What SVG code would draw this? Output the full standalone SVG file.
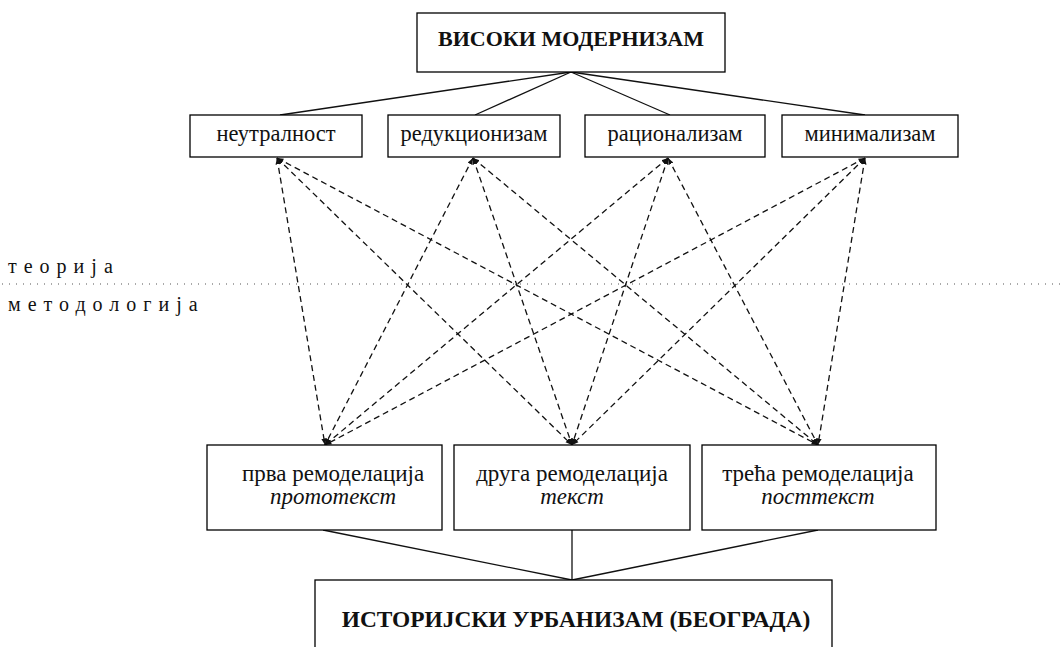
<svg xmlns="http://www.w3.org/2000/svg" width="1061" height="647" viewBox="0 0 1061 647">
<defs>
<style>
.box{fill:#fff;stroke:#000;stroke-width:1.3}
.t{fill:#111;text-anchor:middle}
.b{font-weight:bold}
.i{font-style:italic}
.solid{stroke:#111;stroke-width:1.3;fill:none}
.dash{stroke:#111;stroke-width:1.3;fill:none;stroke-dasharray:6,4}
.dot{stroke:#555;stroke-width:1.2;fill:none;stroke-dasharray:1,6}
.side{font-size:20px;letter-spacing:7px;fill:#111}
</style>
<marker id="ah" viewBox="0 0 10 10" refX="10" refY="5" markerWidth="5" markerHeight="5" orient="auto-start-reverse">
<path d="M0,1 L10,5 L0,9 z" fill="#111"/>
</marker>
</defs>
<rect width="1061" height="647" fill="#fff"/>
<g id="divider" font-family="Liberation Serif">
<line class="dot" x1="2" y1="284" x2="1061" y2="284"/>
<text class="side" x="8" y="273">теорија</text>
<text class="side" x="8" y="311">методологија</text>
</g>
<g id="connectors">
<line class="solid" x1="571" y1="72" x2="280" y2="115"/>
<line class="solid" x1="571" y1="72" x2="475" y2="115"/>
<line class="solid" x1="571" y1="72" x2="670" y2="115"/>
<line class="solid" x1="571" y1="72" x2="865" y2="115"/>
<g marker-start="url(#ah)" marker-end="url(#ah)">
<line class="dash" x1="277" y1="158" x2="325" y2="445"/>
<line class="dash" x1="277" y1="158" x2="572" y2="445"/>
<line class="dash" x1="277" y1="158" x2="818" y2="445"/>
<line class="dash" x1="473" y1="158" x2="325" y2="445"/>
<line class="dash" x1="473" y1="158" x2="572" y2="445"/>
<line class="dash" x1="473" y1="158" x2="818" y2="445"/>
<line class="dash" x1="668" y1="158" x2="325" y2="445"/>
<line class="dash" x1="668" y1="158" x2="572" y2="445"/>
<line class="dash" x1="668" y1="158" x2="818" y2="445"/>
<line class="dash" x1="865" y1="158" x2="325" y2="445"/>
<line class="dash" x1="865" y1="158" x2="572" y2="445"/>
<line class="dash" x1="865" y1="158" x2="818" y2="445"/>
</g>
<line class="solid" x1="323" y1="530" x2="572" y2="580"/>
<line class="solid" x1="572" y1="530" x2="572" y2="580"/>
<line class="solid" x1="818" y1="530" x2="572" y2="580"/>
</g>
<g id="n-top" font-family="Liberation Serif">
<rect class="box" x="417" y="13" width="308" height="59"/>
<text class="t b" x="571" y="46" font-size="22">ВИСОКИ МОДЕРНИЗАМ</text>
</g>
<g id="n-neutralnost" font-family="Liberation Serif">
<rect class="box" x="190" y="115" width="172" height="42"/>
<text class="t" x="276" y="141" font-size="22.5">неутралност</text>
</g>
<g id="n-redukcionizam" font-family="Liberation Serif">
<rect class="box" x="388" y="115" width="172" height="42"/>
<text class="t" x="474" y="141" font-size="22.5">редукционизам</text>
</g>
<g id="n-racionalizam" font-family="Liberation Serif">
<rect class="box" x="585" y="115" width="180" height="42"/>
<text class="t" x="675" y="141" font-size="22.5">рационализам</text>
</g>
<g id="n-minimalizam" font-family="Liberation Serif">
<rect class="box" x="782" y="115" width="176" height="42"/>
<text class="t" x="870" y="141" font-size="22.5">минимализам</text>
</g>
<g id="n-prva" font-family="Liberation Serif">
<rect class="box" x="207" y="445" width="235" height="85"/>
<text class="t" x="333" y="481" font-size="23">прва ремоделација</text>
<text class="t i" x="333" y="504" font-size="23">прототекст</text>
</g>
<g id="n-druga" font-family="Liberation Serif">
<rect class="box" x="454" y="445" width="236" height="85"/>
<text class="t" x="572" y="481" font-size="23">друга ремоделација</text>
<text class="t i" x="572" y="504" font-size="23">текст</text>
</g>
<g id="n-treca" font-family="Liberation Serif">
<rect class="box" x="702" y="445" width="234" height="85"/>
<text class="t" x="818" y="481" font-size="23">трећа ремоделација</text>
<text class="t i" x="818" y="504" font-size="23">посттекст</text>
</g>
<g id="n-bottom" font-family="Liberation Serif">
<rect class="box" x="315" y="580" width="517" height="80"/>
<text class="t b" x="576" y="627" font-size="23.4">ИСТОРИЈСКИ УРБАНИЗАМ (БЕОГРАДА)</text>
</g>
</svg>
